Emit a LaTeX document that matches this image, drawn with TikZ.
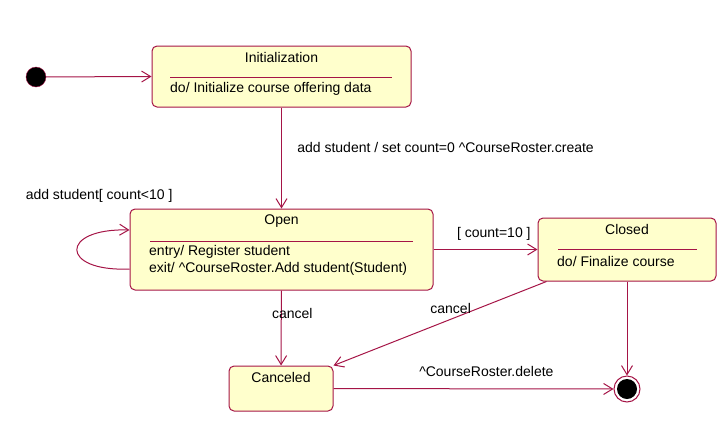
\documentclass[tikz,border=0pt]{standalone}
\usepackage{fontspec}
\setmainfont{Liberation Sans}
\usetikzlibrary{arrows.meta}
\definecolor{umlred}{RGB}{165,20,70}
\definecolor{umlfill}{RGB}{255,255,204}

\begin{document}
\begin{tikzpicture}[x=1pt, y=-1pt, font=\fontsize{14}{17}\selectfont,
    state/.style={rectangle, rounded corners=5pt, draw=umlred, fill=umlfill, line width=1pt},
    trans/.style={draw=umlred, line width=1pt, -{Straight Barb[length=9pt, width=11pt]}},
    sepline/.style={draw=umlred, line width=1pt},
    body/.style={anchor=west, inner sep=0pt}]
    \useasboundingbox (0,0) rectangle (726,429);

    \node[circle, fill=black, draw=umlred, minimum size=20pt, inner sep=0pt] (Start) at (36,77) {};
    \node[state, minimum width=259pt, minimum height=61pt] (Init) at (281.5,76.5) {};
    \node[state, minimum width=303pt, minimum height=81pt] (Open) at (281.5,249.5) {};
    \node[state, minimum width=178pt, minimum height=63pt] (Closed) at (627,249.5) {};
    \node[state, minimum width=104pt, minimum height=45pt] (Cancel) at (281,388.5) {};
    \node[circle, draw=umlred, fill=white, line width=1pt, minimum size=26pt, inner sep=0pt] (End) at (627,389) {};
    \fill (End) circle (10pt);

    \node (InitT) at (281.5,57) {Initialization};
    \draw[sepline] (170,77) -- (392,77);
    \node[body] (InitDo) at (170,89) {do/ Initialize course offering data};

    \node (OpenT) at (281.5,221) {Open};
    \draw[sepline] (150,241) -- (413,241);
    \node[body] (OpenIn) at (149,252) {entry/ Register student};
    \node[body] (OpenOut) at (149,269) {exit/ \textasciicircum CourseRoster.Add student(Student)};

    \node (ClosedT) at (627,229) {Closed};
    \draw[sepline] (558,249) -- (697,249);
    \node[body] (ClosedDo) at (557,261) {do/ Finalize course};

    \node (CancelT) at (281,377) {Canceled};

    % 遷移を引く
    \draw[trans] (Start) -- (Init.west);
    \draw[trans] (Init) -- node[right, pos=0.4, xshift=12pt] {add student / set count=0 \textasciicircum CourseRoster.create} (Open);
    \draw[trans] ([yshift=-19.5pt]Open.west) .. controls +(-70,3) and +(-70,-2) .. node[pos=0.75, above=29pt, xshift=9pt] {add student[ count<10 ]} ([yshift=19.5pt]Open.west);
    \draw[trans] (Open) -- node[above=5pt, pos=0.58] {[ count=10 ]} (Closed);
    \draw[trans] (Open) -- node[pos=0.3, xshift=11pt] {cancel} (Cancel);
    \draw[trans] ([xshift=9pt]Closed.south west) -- node[above=2pt, pos=0.45] {cancel} (Cancel.north east);
    \draw[trans] (Closed) -- (End);
    \draw[trans] (Cancel) -- node[above=8pt, pos=0.546] {\textasciicircum CourseRoster.delete} (End);
\end{tikzpicture}
\end{document}
